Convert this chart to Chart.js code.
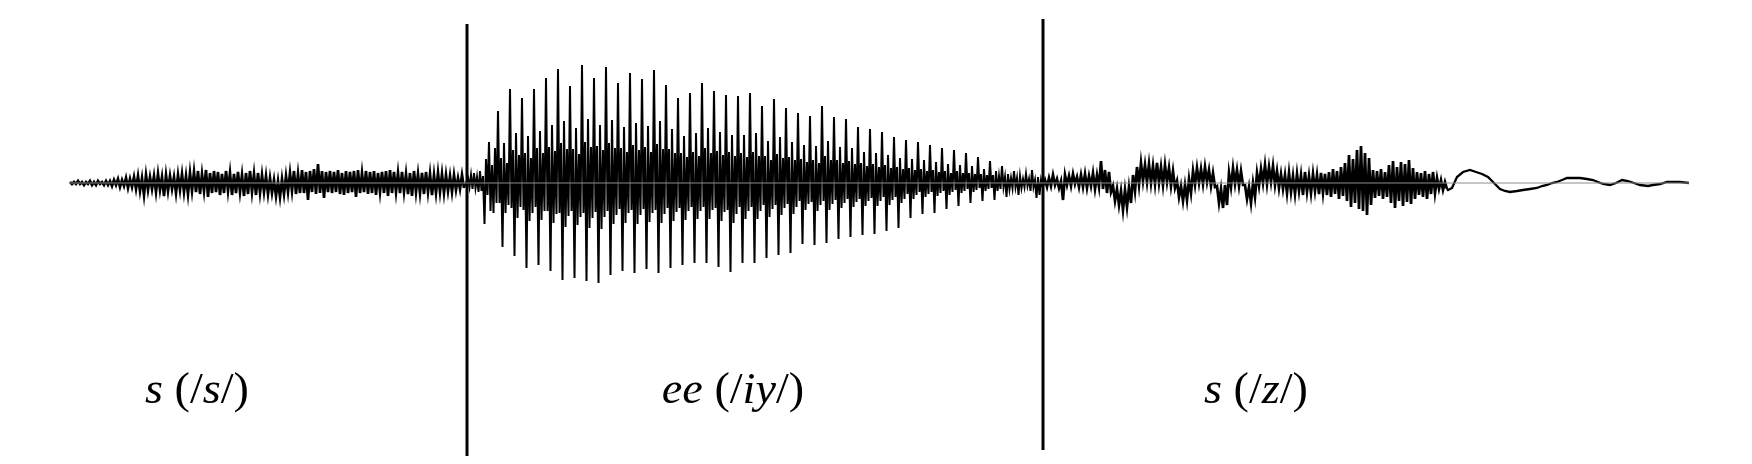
<!DOCTYPE html>
<html lang="en">
<head>
<meta charset="UTF-8">
<title>s-ee-s waveform</title>
<script src="https://cdn.jsdelivr.net/npm/chart.js@4.4.0/dist/chart.umd.min.js"></script>
<style>
  html, body { margin: 0; padding: 0; background: #fff; }
  #wrap { width: 1752px; height: 464px; }
</style>
</head>
<body>
<div id="wrap"><canvas id="wave" width="1752" height="464"></canvas></div>
<script>
// amplitude read per column: upper and lower excursion of the trace (positive = up)
// /s/ : columns every 4 units from t=70
const sStart = 70, sStep = 4;
const sHigh = [1,1,2,1,1,2,1,2,1,2,2, 3,4,3,5,4,
  6,7,5,8,6,7,9,6,8,7,6,8,9,7,10, 11,12,9,13,10,12,11,9,12,
  10,9,11,8,10,12,9,10,8,7, 5,3,2,4, 7,10,12,9, 13,11,12,14,19,12,11,
  12,11,13,10,12,11,12,13,10,12,11,12,10,11,12,13,11,
  10,11,9,10,12,9,10,11,9,8,10,9,8,7,8, 5,8];
const sLow = [-1,-1,-1,-2,-1,-2,-2,-1,-2,-2,-3, -2,-4,-3,-5,-4,
  -6,-8,-12,-7,-6,-9,-7,-13,-8,-6,-10,-7,-9,-11,-8, -9,-11,-8,-14,-10,-9,-12,-10,-8,
  -12,-10,-9,-13,-11,-9,-12,-10,-9,-11, -10,-13,-14,-11, -9,-8,-11,-10, -10,-17,-9,-11,-10,-15,-9,
  -10,-9,-11,-12,-10,-9,-14,-10,-9,-11,-10,-12,-9,-10,-13,-10,-9,
  -10,-9,-11,-13,-9,-10,-11,-9,-12,-10,-9,-10,-8,-9,-7, -6,-5];

// /iy/ : columns every 3 units from t=468
const vStart = 468, vStep = 3;
const vowelHigh = [5,8,10,6,12,7,24,41,18,35,
  72,25,40,20, 94,33,50,28, 85,30,47,25, 94,35,52,30, 105,36,58,32,
  114,40,62,34, 97,34,55,29, 118,41,64,36, 105,37,58,33, 116,40,63,35,
  100,35,56,31, 110,38,60,33, 104,36,57,31, 113,39,62,34, 98,34,54,30,
  85,30,47,26, 90,31,50,27, 100,35,55,30, 92,32,51,28, 88,31,48,27,
  87,30,48,26, 90,31,50,27, 77,27,42,23, 84,29,46,25, 75,26,41,23,
  70,24,38,21, 67,23,37,20, 77,27,42,23, 66,23,36,20, 64,22,35,19,
  56,20,31,17, 54,19,30,16, 51,18,28,15, 46,16,25,14, 43,15,24,13,
  41,14,23,12, 38,13,21,11, 35,12,19,10, 33,12,18,10, 30,10,17,9,
  26,9,14,8, 22,8,12,7, 17,6,9,5, 12,5,7,4, 9,4,13,3, 6,3];
const vowelLow = [-4,-6,-5,-9,-8,-41,-12,-28,-30,-20,
  -20,-64,-30,-22, -25,-73,-35,-24, -27,-85,-38,-30, -24,-82,-37,-28, -28,-88,-40,-31,
  -30,-97,-44,-33, -28,-95,-42,-34, -30,-98,-45,-35, -29,-100,-46,-34, -28,-92,-41,-32,
  -26,-88,-40,-30, -27,-90,-41,-32, -26,-86,-39,-30, -27,-90,-40,-31, -25,-85,-38,-29,
  -25,-82,-37,-28, -24,-80,-36,-28, -24,-80,-36,-27, -25,-84,-38,-29, -27,-89,-40,-31,
  -24,-80,-36,-28, -24,-80,-36,-28, -22,-75,-34,-26, -22,-72,-32,-25, -21,-70,-31,-24,
  -18,-61,-27,-21, -19,-62,-28,-22, -18,-60,-27,-21, -17,-56,-25,-20, -16,-54,-24,-19,
  -16,-52,-23,-18, -15,-51,-23,-18, -14,-48,-22,-17, -14,-45,-20,-16, -11,-35,-16,-12,
  -9,-31,-14,-11, -9,-30,-13,-10, -8,-26,-12,-9, -7,-23,-10,-8, -6,-20,-9,-7,
  -5,-18,-8,-6, -5,-17,-8,-6, -4,-14,-6,-5, -4,-12,-5,-4, -3,-8,-4,-15, -12,-4];

// /z/ : columns every 4 units from t=1045
const zStart = 1045, zStep = 4;
const zHigh = [3,5,8,4, 2, 8,7,9,6, 8,9,7,10,8, 22, 13,11, -3,-6,-8,-7,-4,
  8,16,20,18,19,17, 20,16,18,15,12, 2,-3,-2,4, 12,15,14,16,13,10, -3,-6,-2,
  10,15,13,12, -2,-4,0, 10,14,18,16,17,12,9, 8,10,7,9,8,11,7,9,8,10,
  9,11,14,12,16, 20,28,24,33,37,30,25, 13,12,14,11, 18,22,16,21,19,23,15,
  11,10,12,9,11, 5,3,1];
const zLow = [-4,-3,-2,-5, -17, -2,-3,-1,-4, -4,-5,-3,-6,-4, -6, -10,-9, -18,-22,-27,-24,-20,
  -8,-2,2,1,0,-1, 0,-2,1,-3,-5, -14,-18,-17,-10, -2,0,-1,1,-3,-4, -20,-25,-22,
  -4,-1,-3,-2, -16,-20,-14, -3,0,-1,1,-2,-5,-6, -10,-9,-11,-8,-12,-9,-10,-8,-11,-10,
  -12,-14,-11,-16,-13, -18,-24,-20,-26,-28,-32,-22, -15,-13,-16,-14, -20,-25,-18,-23,-19,-21,-16,
  -12,-14,-16,-11,-10, -6,-7,-6];

// slow decay after the /z/ frication
const tailTime = [1448,1452,1457,1463,1470,1476,1482,1488,1493,1500,1505,1510,1517,1523,1530,1537,
  1542,1547,1552,1557,1562,1567,1573,1580,1587,1593,1598,1603,1610,1616,1622,1628,1634,1640,
  1648,1653,1660,1667,1673,1680,1689];
const tailAmp = [-7,-5,6,11,13,11,9,6,1,-6,-8,-9,-8,-7,-6,-5,
  -3,-2,0,1,3,5,5,5,4,3,1,-1,-2,0,3,2,0,-2,
  -3,-2,-1,1,1,1,0];

// segment boundaries
const boundaryTime = [467, 1043];
const boundaryTop = [159, 164];
const boundaryBottom = [-273, -267];

// phoneme labels: [text, italic]
const labelParts = [
  [['s', true], [' (/', false], ['s', true], ['/)', false]],
  [['ee', true], [' (/', false], ['iy', true], ['/)', false]],
  [['s', true], [' (/', false], ['z', true], ['/)', false]]
];
const labelTime = [197, 733, 1256];
const labelLevel = -220;

function columns(start, step, hi, lo) {
  const pts = [];
  for (let i = 0; i < hi.length; i++) {
    pts.push({x: start + i * step, y: hi[i]});
    pts.push({x: start + i * step + step / 2, y: lo[i]});
  }
  return pts;
}

const sPoints = columns(sStart, sStep, sHigh, sLow);
const vPoints = columns(vStart, vStep, vowelHigh, vowelLow);
const zPoints = columns(zStart, zStep, zHigh, zLow);
// join the pieces so the trace stays continuous
vPoints.unshift(sPoints[sPoints.length - 1]);
zPoints.unshift(vPoints[vPoints.length - 1]);
const tailPoints = tailTime.map((t, i) => ({x: t, y: tailAmp[i]}));
tailPoints.unshift(zPoints[zPoints.length - 1]);

const datasets = [
  {
    data: [{x: sStart, y: 0}, {x: tailTime[tailTime.length - 1], y: 0}],
    borderColor: '#8c8c8c', borderWidth: 1
  },
  { data: sPoints, borderColor: '#000', borderWidth: 2.7 },
  { data: vPoints, borderColor: '#000', borderWidth: 2 },
  { data: zPoints, borderColor: '#000', borderWidth: 2.7 },
  { data: tailPoints, borderColor: '#000', borderWidth: 2.3 }
];
boundaryTime.forEach((t, i) => {
  datasets.push({
    data: [{x: t, y: boundaryTop[i]}, {x: t, y: boundaryBottom[i]}],
    borderColor: '#000', borderWidth: 3, borderCapStyle: 'butt'
  });
});

const labelPlugin = {
  id: 'phonemeLabels',
  afterDraw(chart) {
    const ctx = chart.ctx;
    const xs = chart.scales.x, ys = chart.scales.y;
    const size = 44, stretch = 1.05;
    const fontFor = it => (it ? 'italic ' : '') + size + 'px "Liberation Serif", "Times New Roman", serif';
    labelParts.forEach((parts, i) => {
      let w = 0;
      parts.forEach(p => { ctx.font = fontFor(p[1]); w += ctx.measureText(p[0]).width; });
      ctx.save();
      ctx.translate(xs.getPixelForValue(labelTime[i]), ys.getPixelForValue(labelLevel));
      ctx.scale(stretch, 1);
      ctx.fillStyle = '#000';
      ctx.textBaseline = 'alphabetic';
      let x = -w / 2;
      parts.forEach(p => {
        ctx.font = fontFor(p[1]);
        ctx.fillText(p[0], x, 0);
        x += ctx.measureText(p[0]).width;
      });
      ctx.restore();
    });
  }
};

new Chart(document.getElementById('wave'), {
  type: 'line',
  data: { datasets: datasets },
  options: {
    responsive: false,
    animation: false,
    devicePixelRatio: 1,
    layout: { padding: 0 },
    elements: { point: { radius: 0 }, line: { tension: 0 } },
    plugins: { legend: { display: false }, tooltip: { enabled: false } },
    scales: {
      x: { type: 'linear', min: 0, max: 1752, display: false },
      y: { min: -281, max: 183, display: false }
    }
  },
  plugins: [labelPlugin]
});
</script>
</body>
</html>
